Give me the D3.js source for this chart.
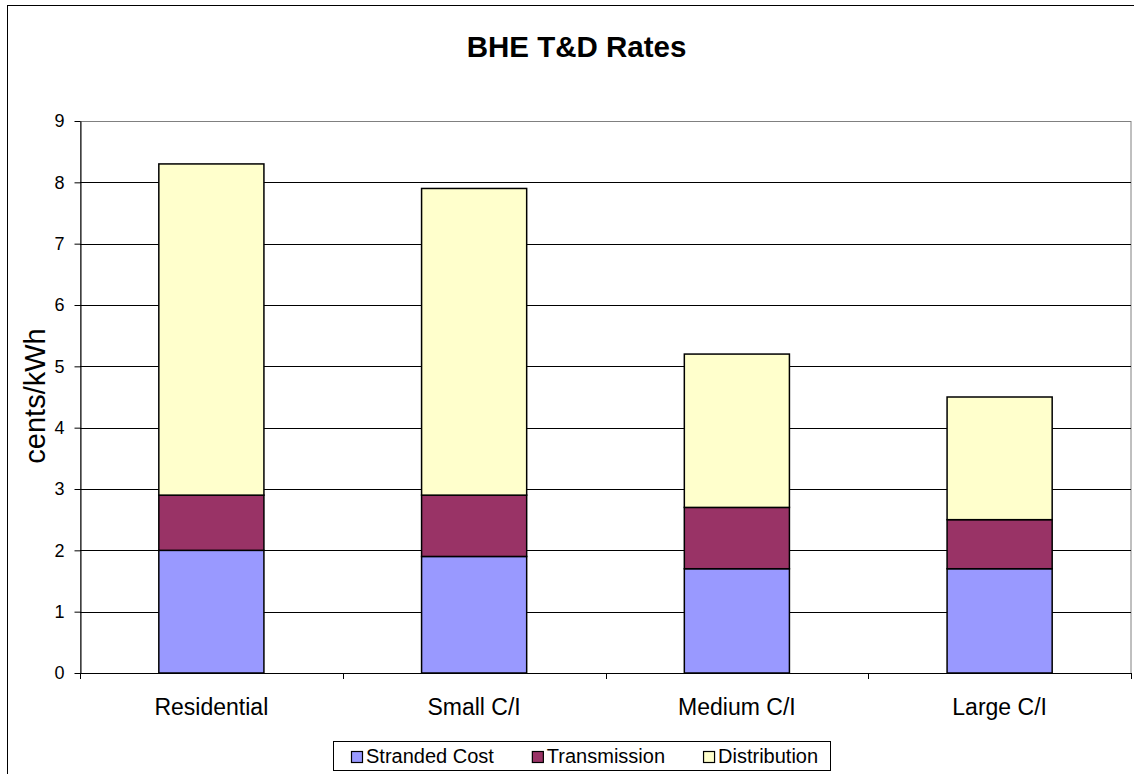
<!DOCTYPE html>
<html>
<head>
<meta charset="utf-8">
<script src="https://cdn.jsdelivr.net/npm/d3@7"></script>
<style>
  body { margin: 0; background: #fff; }
  svg { display: block; font-family: "Liberation Sans", Arial, sans-serif; }
</style>
</head>
<body>
<div id="chart"></div>
<script>
const categories = ["Residential", "Small C/I", "Medium C/I", "Large C/I"];
const seriesNames = ["Stranded Cost", "Transmission", "Distribution"];
const strandedCost = [2.0, 1.9, 1.7, 1.7];
const transmission = [0.9, 1.0, 1.0, 0.8];
const distribution = [5.4, 5.0, 2.5, 2.0];
const yTicks = [0, 1, 2, 3, 4, 5, 6, 7, 8, 9];
const colors = ["#9999FF", "#993366", "#FFFFCC"];

const WIDTH = 1134, HEIGHT = 774;
const plot = { left: 80, right: 1131, top: 121, bottom: 673 };

const svg = d3.select("#chart")
  .append("svg")
    .attr("width", WIDTH)
    .attr("height", HEIGHT);

// outer chart frame
svg.append("rect")
  .attr("x", 7.5).attr("y", 5.5)
  .attr("width", WIDTH).attr("height", HEIGHT)
  .attr("fill", "#fff")
  .attr("stroke", "#000");

const rows = categories.map((c, i) => ({
  category: c,
  "Stranded Cost": strandedCost[i],
  "Transmission": transmission[i],
  "Distribution": distribution[i]
}));
const stacked = d3.stack().keys(seriesNames)(rows);

const x = d3.scaleBand()
  .domain(categories)
  .range([plot.left, plot.right])
  .paddingInner(0.6)
  .paddingOuter(0.3);

const y = d3.scaleLinear().domain([0, 9]).range([plot.bottom, plot.top]);

// plot area frame (gray)
svg.append("rect")
  .attr("x", plot.left + 0.5).attr("y", plot.top + 0.5)
  .attr("width", plot.right - plot.left - 0.5)
  .attr("height", plot.bottom - plot.top)
  .attr("fill", "none")
  .attr("stroke", "#808080");

// gridlines
svg.append("g")
  .selectAll("line")
  .data(yTicks.filter(t => t > 0 && t < 9))
  .join("line")
    .attr("x1", plot.left).attr("x2", plot.right)
    .attr("y1", d => Math.round(y(d)) + 0.5)
    .attr("y2", d => Math.round(y(d)) + 0.5)
    .attr("stroke", "#000");

// bars
svg.append("g")
  .selectAll("g")
  .data(stacked)
  .join("g")
    .attr("fill", (d, i) => colors[i])
  .selectAll("rect")
  .data(d => d)
  .join("rect")
    .attr("x", d => x(d.data.category))
    .attr("y", d => y(d[1]))
    .attr("width", x.bandwidth())
    .attr("height", d => y(d[0]) - y(d[1]))
    .attr("stroke", "#000")
    .attr("stroke-width", 1.5);

// y axis
const yAxis = svg.append("g")
  .attr("transform", `translate(${plot.left + 0.5},0)`)
  .call(d3.axisLeft(y).tickValues(yTicks).tickSize(6).tickSizeOuter(0).tickPadding(10));
yAxis.select(".domain").attr("stroke", "#000");
yAxis.selectAll("text")
  .attr("font-size", 18)
  .attr("font-family", "Liberation Sans, Arial, sans-serif")
  .attr("fill", "#000");

// x axis line with boundary ticks
svg.append("line")
  .attr("x1", plot.left).attr("x2", plot.right)
  .attr("y1", plot.bottom + 0.5).attr("y2", plot.bottom + 0.5)
  .attr("stroke", "#000");
const bounds = categories.map(c => x(c) - x.step() * x.paddingInner() / 2 - (x(c) === x(categories[0]) ? x.step() * (x.paddingOuter() - x.paddingInner() / 2) : 0));
bounds.push(plot.right);
svg.append("g")
  .selectAll("line")
  .data(bounds)
  .join("line")
    .attr("x1", d => Math.round(d) + 0.5).attr("x2", d => Math.round(d) + 0.5)
    .attr("y1", plot.bottom).attr("y2", plot.bottom + 6)
    .attr("stroke", "#000");

svg.append("g")
  .selectAll("text")
  .data(categories)
  .join("text")
    .attr("x", d => x(d) + x.bandwidth() / 2)
    .attr("y", 715)
    .attr("text-anchor", "middle")
    .attr("font-size", 23)
    .text(d => d);

// title
svg.append("text")
  .attr("x", 576.5).attr("y", 57)
  .attr("text-anchor", "middle")
  .attr("font-size", 29.5)
  .attr("font-weight", "bold")
  .text("BHE T&D Rates");

// y axis label
svg.append("text")
  .attr("transform", "translate(45,396) rotate(-90)")
  .attr("text-anchor", "middle")
  .attr("font-size", 29)
  .text("cents/kWh");

// legend
const legend = svg.append("g");
legend.append("rect")
  .attr("x", 333.5).attr("y", 741.5)
  .attr("width", 497).attr("height", 29)
  .attr("fill", "#fff")
  .attr("stroke", "#000");
let lx = 351;
seriesNames.forEach((name, i) => {
  legend.append("rect")
    .attr("x", lx + 0.5).attr("y", 751.5)
    .attr("width", 11).attr("height", 11)
    .attr("fill", colors[i])
    .attr("stroke", "#000")
    .attr("stroke-width", 1.2);
  const t = legend.append("text")
    .attr("x", lx + 15).attr("y", 763)
    .attr("font-size", 20)
    .text(name);
  lx += 15 + t.node().getComputedTextLength() + 38;
});
</script>
</body>
</html>
